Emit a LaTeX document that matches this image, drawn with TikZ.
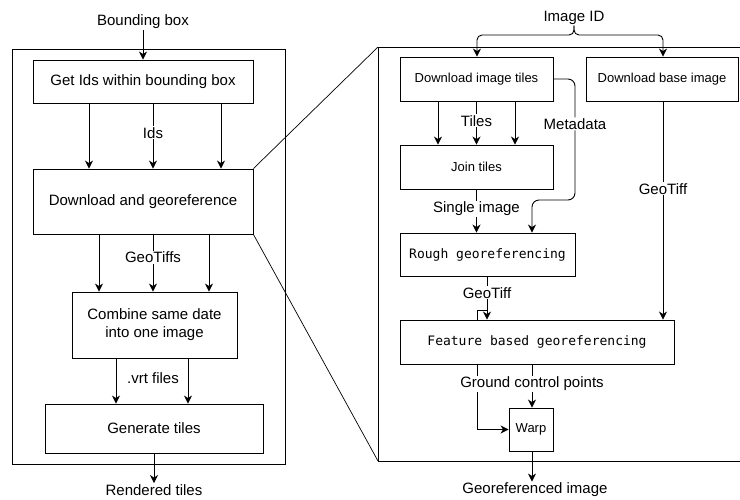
\documentclass[tikz,border=0pt]{standalone}
\usepackage{fontspec}
\setmainfont{Liberation Sans}
\setmonofont{DejaVu Sans Mono}
\usetikzlibrary{arrows.meta}
\begin{document}
\begin{tikzpicture}[x=1pt,y=-1pt,line width=0.9pt,
  box/.style={draw,rectangle,inner sep=0pt,align=center},
  bigbox/.style={box,font=\fontsize{15}{18}\selectfont},
  smallbox/.style={box,font=\fontsize{13}{16}\selectfont},
  monobox/.style={box,font=\fontsize{13}{16}\selectfont\ttfamily},
  arr/.style={-{Stealth[length=8pt,width=8pt,inset=2.5pt]}},
  lbl/.style={fill=white,inner sep=1pt,font=\fontsize{15}{18}\selectfont},
  txt/.style={inner sep=1pt,font=\fontsize{15}{18}\selectfont}]
\useasboundingbox (0,0) rectangle (740,499);
\fill[white] (0,0) rectangle (740,499);

% outer frames
\draw (12,49) rectangle (285,464);
\draw (740,47) -- (378,47) -- (378,461) -- (740,461);

% left side
\node[txt] (bb) at (143,22) {Bounding box};
\node[bigbox,minimum width=220pt,minimum height=43pt] (get) at (143,81.5) {Get Ids within bounding box};
\node[bigbox,minimum width=220pt,minimum height=65pt] (dg) at (143,201.5) {Download and georeference};
\node[bigbox,minimum width=165pt,minimum height=66pt] (comb) at (154.5,325) {Combine same date\\into one image};
\node[bigbox,minimum width=218pt,minimum height=49pt] (gen) at (154,428.5) {Generate tiles};
\node[txt] (rt) at (154,490) {Rendered tiles};

\draw[arr] (bb) -- (get);
\draw[arr] ([xshift=-54pt]get.south) -- ([xshift=-54pt]dg.north);
\draw[arr] ([xshift=10pt]get.south) -- node[lbl,pos=0.45]{Ids} ([xshift=10pt]dg.north);
\draw[arr] ([xshift=78pt]get.south) -- ([xshift=78pt]dg.north);

\draw[arr] ([xshift=-44pt]dg.south) -- ([xshift=-44pt]dg.south |- comb.north);
\draw[arr] ([xshift=10pt]dg.south) -- node[lbl,pos=0.4]{GeoTiffs} ([xshift=10pt]dg.south |- comb.north);
\draw[arr] ([xshift=66pt]dg.south) -- ([xshift=66pt]dg.south |- comb.north);

\draw[arr] ([xshift=-38.5pt]comb.south) -- ([xshift=-38.5pt]comb.south |- gen.north);
\draw[arr] ([xshift=33.5pt]comb.south) -- ([xshift=33.5pt]comb.south |- gen.north);
\node[txt] (vrt) at (153,378) {.vrt files};

\draw[arr] (gen) -- (rt);

% zoom lines
\draw[line width=0.7pt] (dg.north east) -- (378,47);
\draw[line width=0.7pt] (dg.south east) -- (378,461);

% right side
\node[txt] (iid) at (574,17.5) {Image ID};
\node[smallbox,minimum width=153pt,minimum height=44pt] (dit) at (476.5,79) {Download image tiles};
\node[smallbox,minimum width=152pt,minimum height=44pt] (dbi) at (662,79) {Download base image};
\node[smallbox,minimum width=153pt,minimum height=44pt] (join) at (476.5,167) {Join tiles};
\node[monobox,minimum width=175pt,minimum height=43pt] (rough) at (487.5,254.5) {Rough georeferencing};
\node[monobox,minimum width=274pt,minimum height=44pt] (feat) at (537,342) {Feature based georeferencing};
\node[smallbox,minimum width=44pt,minimum height=43pt] (warp) at (531,429.5) {Warp};
\node[txt] (gi) at (535,490) {Georeferenced image};

\draw[arr,rounded corners=5pt] (iid.south) -- (574,35) -- (477,35) -- (dit.north -| 477,0);
\draw[arr,rounded corners=5pt] (iid.south) -- (574,35) -- (663,35) -- (dbi.north -| 663,0);

\draw[arr] ([xshift=-38.5pt]dit.south) -- ([xshift=-38.5pt]join.north);
\draw[arr] (dit.south) -- node[lbl,pos=0.45]{Tiles} (join.north);
\draw[arr] ([xshift=38.5pt]dit.south) -- ([xshift=38.5pt]join.north);

\draw[arr,rounded corners=7pt] (dit.east) -- (575,79) -- node[lbl,pos=0.37]{Metadata} (575,200) -- (532,200) -- (rough.north -| 532,0);
\draw[arr] (join.south) -- node[lbl,pos=0.45]{Single image} (join.south |- rough.north);

\draw[arr] ([xshift=-0.5pt]rough.south) -- node[lbl,pos=0.38]{GeoTiff} ([xshift=-0.5pt]rough.south |- feat.north);
\draw (487,310) -- (477,310) -- (477,320);
\draw[arr] (dbi.south -| 663,0) -- node[lbl,pos=0.4]{GeoTiff} (feat.north -| 663,0);

\draw[arr] (feat.south -| 477,0) |- (warp.west);
\draw[arr] (feat.south -| 532,0) -- node[lbl,pos=0.45]{Ground control points} (warp.north -| 532,0);
\draw[arr] (warp.south -| 532,0) -- (gi.north -| 532,0);
\end{tikzpicture}
\end{document}
